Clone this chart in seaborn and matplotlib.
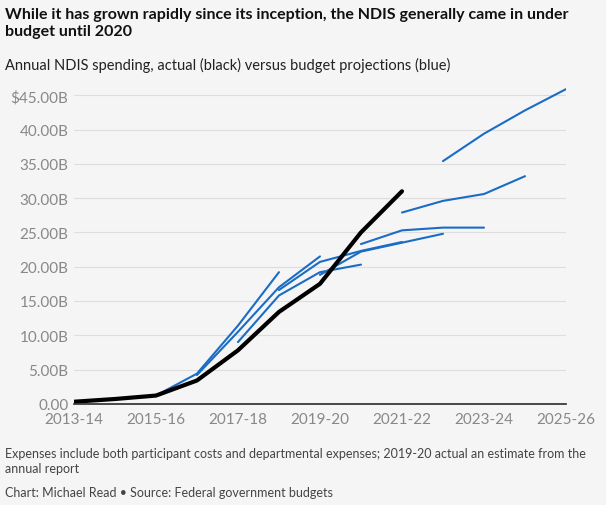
import matplotlib
matplotlib.use("Agg")
import matplotlib.pyplot as plt
import seaborn as sns
import pandas as pd

years = ["2013-14","2014-15","2015-16","2016-17","2017-18","2018-19","2019-20",
         "2020-21","2021-22","2022-23","2023-24","2024-25","2025-26"]
actual = [0.3, 0.7, 1.2, 3.4, 7.8, 13.4, 17.5, 25.0, 31.0]
budgets = {
    "2015-16": (2, [1.2, 4.4, 11.4, 19.2]),
    "2016-17": (3, [4.2, 10.5, 17.0, 21.5]),
    "2017-18": (4, [9.0, 15.8, 19.2, 20.3]),
    "2018-19": (5, [16.6, 20.7, 22.3, 23.6]),
    "2019-20": (6, [18.8, 22.2, 23.5, 24.8]),
    "2020-21": (7, [23.3, 25.3, 25.7, 25.7]),
    "2021-22": (8, [27.9, 29.6, 30.6, 33.2]),
    "2022-23": (9, [35.4, 39.4, 42.8, 45.9]),
}
yticks = [0, 5, 10, 15, 20, 25, 30, 35, 40, 45]
ylabels = ["0.00"] + [f"{v:.2f}B" for v in yticks[1:-1]] + ["$45.00B"]

sns.set_theme(style="white")
plt.rcParams['font.family'] = ['Lato', 'DejaVu Sans']
bg = "#f5f5f5"
fig = plt.figure(figsize=(6.06, 5.06), dpi=100, facecolor=bg)
ax = fig.add_axes([0.122, 0.2, 0.812, 0.63], facecolor=bg)

rows = []
for name, (start, vals) in budgets.items():
    for i, v in enumerate(vals):
        rows.append({"x": start + i, "y": v, "b": name})
bdf = pd.DataFrame(rows)
sns.lineplot(data=bdf, x="x", y="y", units="b", estimator=None, color="#1a6cc4",
             lw=1.5, ax=ax, legend=False)
adf = pd.DataFrame({"x": range(len(actual)), "y": actual})
sns.lineplot(data=adf, x="x", y="y", color="black", lw=3, ax=ax)

ax.set_xlim(0, 12)
ax.set_ylim(0, 46.5)
ax.set_xticks(range(0, 13, 2))
ax.set_xticklabels(years[::2], color="#888888", fontsize=11)
ax.set_yticks(yticks)
ax.set_yticklabels(ylabels, color="#888888", fontsize=11)
ax.grid(axis="y", color="#dddddd", lw=0.8)
for s in ["top", "right", "left"]:
    ax.spines[s].set_visible(False)
ax.spines["bottom"].set_color("#333333")
ax.tick_params(axis="x", length=4, color="#333333", pad=2)
ax.tick_params(axis="y", length=0, pad=4)
ax.set_xlabel("")
ax.set_ylabel("")

fig.text(0.008, 0.985, "While it has grown rapidly since its inception, the NDIS generally came in under\nbudget until 2020",
         fontsize=11.5, fontweight="bold", va="top", color="#111111", linespacing=1.3)
fig.text(0.008, 0.885, "Annual NDIS spending, actual (black) versus budget projections (blue)",
         fontsize=10.5, va="top", color="#222222")
fig.text(0.008, 0.115, "Expenses include both participant costs and departmental expenses; 2019-20 actual an estimate from the\nannual report",
         fontsize=9, va="top", color="#444444", linespacing=1.35)
fig.text(0.008, 0.038, "Chart: Michael Read \u2022 Source: Federal government budgets",
         fontsize=9, va="top", color="#444444")
fig.savefig("out.png", dpi=100, facecolor=bg)
